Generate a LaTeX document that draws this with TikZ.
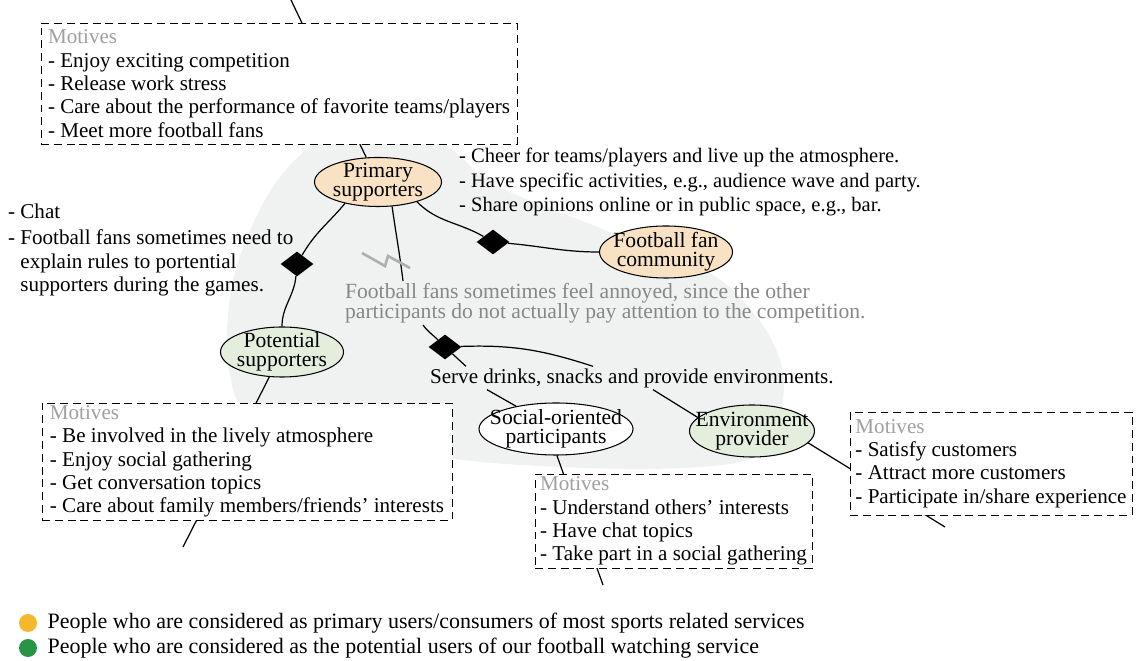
\documentclass[tikz,border=0pt]{standalone}
\usepackage{fontspec}
\setmainfont{Liberation Serif}
\usetikzlibrary{shapes.geometric,positioning,calc}
\definecolor{blob}{RGB}{240,242,241}
\definecolor{peach}{RGB}{249,226,196}
\definecolor{sage}{RGB}{227,238,220}
\definecolor{motgrey}{RGB}{160,160,160}
\definecolor{notegrey}{RGB}{135,135,135}
\definecolor{boltgrey}{RGB}{175,175,175}
\definecolor{legorange}{RGB}{245,184,45}
\definecolor{leggreen}{RGB}{38,150,70}
\newcommand{\mot}{\textcolor{motgrey}{Motives}}
\newcommand{\fs}[1]{\fontsize{12}{#1}\selectfont}

\begin{document}
\begin{tikzpicture}[x=0.2mm,y=-0.2mm,font=\fs{13.3},
  actor/.style={ellipse,draw,line width=0.6pt,inner sep=0pt,minimum height=1.04cm},
  actorlbl/.style={align=center,inner sep=0pt,font=\fontsize{12.3}{10.8}\selectfont},
  rel/.style={diamond,fill=black,inner sep=0pt,minimum width=6.6mm,minimum height=5mm},
  link/.style={line width=0.7pt},
  motbox/.style={draw,fill=white,line width=0.5pt,dash pattern=on 4.5pt off 2.8pt,align=left,inner sep=0pt},
  note/.style={align=left,inner sep=1pt},
  dot/.style={circle,inner sep=0pt,minimum size=3.6mm}]
\useasboundingbox (0,0) rectangle (1137,661);
% shaded area
\fill[blob] plot[smooth cycle,tension=0.6] coordinates {(330,138) (410,128) (455,152) (495,185) (600,228) (705,270) (755,315) (780,360) (783,400) (772,440) (740,462) (650,469) (540,466) (455,459) (330,440) (250,415) (229,370) (228,315) (238,262) (265,200) (295,160)};
%
\node[actor,fill=peach,minimum width=2.54cm,minimum height=0.98cm,label={[actorlbl]center:{Primary\\supporters}}]     (prim) at (378,182) {};
\node[actor,fill=peach,minimum width=2.66cm,label={[actorlbl]center:{Football fan\\community}}]                      (fan)  at (666,252) {};
\node[actor,fill=sage,minimum width=2.46cm,minimum height=1cm,label={[actorlbl]center:{Potential\\supporters}}]      (pot)  at (282,352) {};
\node[actor,fill=white,minimum width=3.08cm,label={[actorlbl]center:{Social-oriented\\participants}}]                (soc)  at (556,429) {};
\node[actor,fill=sage,minimum width=2.5cm,label={[actorlbl]center:{Environment\\provider}}]                          (env)  at (752,431) {};
%
\node[rel] (dA) at (297,264) {};
\node[rel] (dB) at (493,242) {};
\node[rel] (dC) at (445,347) {};
%
\node[note,right=3mm of prim,font=\fontsize{11.7}{14.2}\selectfont] (acts) {- Cheer for teams/players and live up the atmosphere.\\- Have specific activities, e.g., audience wave and party.\\- Share opinions online or in public space, e.g., bar.};
\node[note,anchor=west] (chat) at (6,250) {- Chat\\[1.5pt]- Football fans sometimes need to\\\hphantom{- }explain rules to portential\\\hphantom{- }supporters during the games.};
\node[note,anchor=west,text=notegrey,font=\fontsize{12.3}{11.3}\selectfont] (annoy) at (343,303) {Football fans sometimes feel annoyed, since the other\\participants do not actually pay attention to the competition.};
\node[note,anchor=west] (serve) at (428,378) {Serve drinks, snacks and provide environments.};
%
\coordinate (a1) at ($(annoy.north west)+(60,0)$);
\coordinate (a2) at ($(annoy.south west)+(80,0)$);
\coordinate (s1) at ($(serve.north west)+(38,0)$);
\coordinate (s2) at ($(serve.south west)+(59,0)$);
\coordinate (s3) at ($(serve.north west)+(165,0)$);
\coordinate (s4) at ($(serve.south west)+(225,0)$);
\coordinate (primend) at (291,0);
\coordinate (potend)  at (183,547);
\coordinate (socend)  at (603,585);
\coordinate (envend)  at (945,527);
%
\draw[link] (prim.213) to[out=230,in=60] (dA) to[out=-95,in=90] (pot);
\draw[link] (prim.-27) to[out=-45,in=150] (dB) to[out=-5,in=180] (fan);
\draw[link] (prim.-60) to[out=-82,in=97] (a1);
\draw[link] (a2) to[out=-55,in=135] (dC);
\draw[link] (dC) -- (s1);
\draw[link] (s2) -- (soc);
\draw[link] (dC) to[out=2,in=162] (s3);
\draw[link] (s4) -- (env.166);
\draw[link] (prim) -- (primend);
\draw[link] (pot) -- (potend);
\draw[link] (soc.-88) -- (socend);
\draw[link] (env.-12) -- (envend);
\draw[boltgrey,line width=1.5pt] (362,253) -- (385,266) -- (388,256) -- (410,268);
%
\node[motbox,minimum width=9.52cm,minimum height=2.42cm] (mprim) at (279,83.5)  {\mot\\- Enjoy exciting competition\\- Release work stress\\- Care about the performance of favorite teams/players\\- Meet more football fans};
\node[motbox,minimum width=8.2cm,minimum height=2.34cm]  (mpot)  at (247,461.5) {\mot\\- Be involved in the lively atmosphere\\- Enjoy social gathering\\- Get conversation topics\\- Care about family members/friends’ interests};
\node[motbox,minimum width=5.54cm,minimum height=1.88cm] (msoc)  at (673.5,521) {\mot\\- Understand others’ interests\\- Have chat topics\\- Take part in a social gathering};
\node[motbox,minimum width=5.64cm,minimum height=2.06cm] (menv)  at (991,463.5) {\mot\\- Satisfy customers\\- Attract more customers\\- Participate in/share experience};
%
\node[dot,fill=legorange] (lg1) at (28,623) {};
\node[dot,fill=leggreen]  (lg2) at (28,648) {};
\node[right=2mm of lg1,inner sep=0pt,font=\fontsize{12.5}{14}\selectfont] (lt1) {People who are considered as primary users/consumers of most sports related services};
\node[right=2mm of lg2,inner sep=0pt,font=\fontsize{12.5}{14}\selectfont] (lt2) {People who are considered as the potential users of our football watching service};
\end{tikzpicture}
\end{document}
